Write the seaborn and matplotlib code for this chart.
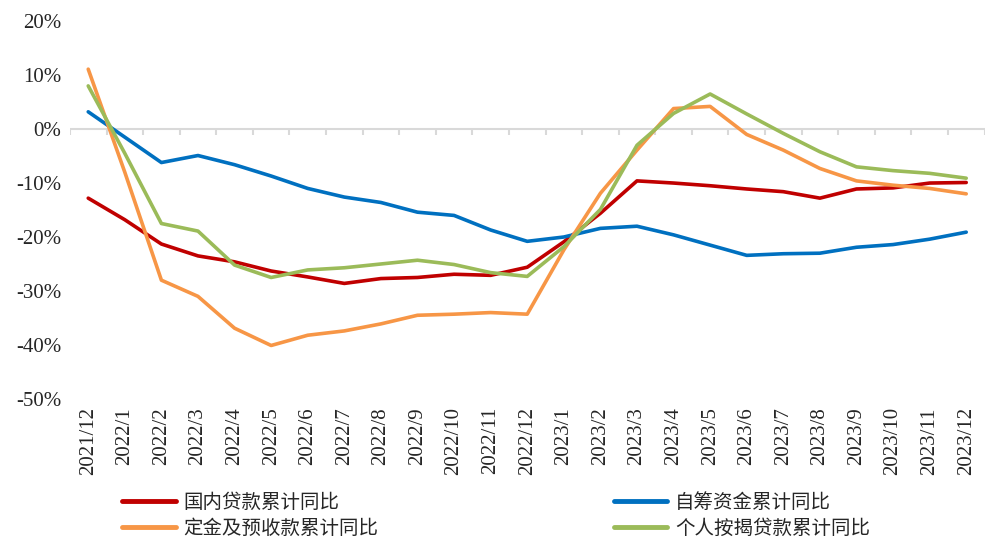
import numpy as np
import pandas as pd
import matplotlib.pyplot as plt
import seaborn as sns

# %%
months = ["2021/12", "2022/1", "2022/2", "2022/3", "2022/4", "2022/5", "2022/6",
          "2022/7", "2022/8", "2022/9", "2022/10", "2022/11", "2022/12",
          "2023/1", "2023/2", "2023/3", "2023/4", "2023/5", "2023/6", "2023/7",
          "2023/8", "2023/9", "2023/10", "2023/11", "2023/12"]

domestic_loans = [-12.8, -16.8, -21.3, -23.5, -24.6, -26.3, -27.4, -28.6, -27.7, -27.5,
                  -26.9, -27.1, -25.6, -20.9, -15.6, -9.6, -10.0, -10.5, -11.1, -11.6,
                  -12.8, -11.1, -10.9, -10.0, -9.9]
self_raised = [3.2, -1.5, -6.2, -4.9, -6.6, -8.7, -11.0, -12.6, -13.6, -15.4,
               -16.0, -18.7, -20.8, -20.0, -18.4, -18.0, -19.6, -21.5, -23.4, -23.1,
               -23.0, -21.9, -21.4, -20.4, -19.1]
deposits_prepay = [11.1, -8.0, -28.0, -31.0, -36.9, -40.1, -38.2, -37.4, -36.1, -34.5,
                   -34.3, -34.0, -34.3, -22.4, -11.9, -3.9, 3.8, 4.2, -1.0, -3.9,
                   -7.3, -9.6, -10.4, -11.0, -12.0]
mortgages = [8.0, -4.5, -17.5, -18.9, -25.2, -27.5, -26.1, -25.7, -25.0, -24.3,
             -25.1, -26.6, -27.3, -21.8, -14.9, -3.0, 2.9, 6.5, 2.8, -0.8,
             -4.2, -7.0, -7.7, -8.2, -9.1]

series_names = ["国内贷款累计同比", "自筹资金累计同比", "定金及预收款累计同比", "个人按揭贷款累计同比"]
colors = ["#C00000", "#0070C0", "#F79646", "#9BBB59"]

# %%
df = pd.DataFrame({
    "month": months * 4,
    "pos": list(range(len(months))) * 4,
    "value": domestic_loans + self_raised + deposits_prepay + mortgages,
    "series": np.repeat(series_names, len(months)),
})

sns.set_style("white")
plt.rcParams["font.family"] = ["Liberation Serif", "Noto Sans CJK SC"]

fig = plt.figure(figsize=(9.85, 5.42), dpi=100)
ax = fig.add_axes([0.071, 0.264, 0.9285, 0.697])

sns.lineplot(data=df, x="pos", y="value", hue="series", hue_order=series_names,
             palette=colors, linewidth=2.6, sort=False, ax=ax, legend=True)

ax.set_xlim(-0.5, len(months) - 0.5)
ax.set_ylim(-50, 20)
ax.set_yticks(np.arange(-50, 21, 10))
ax.set_yticklabels([f"{v}%" for v in range(-50, 21, 10)], fontsize=15)
ax.set_xticks(range(len(months)))
ax.set_xticklabels(months, rotation=90, fontsize=15)
ax.tick_params(axis="both", length=0, pad=6)
ax.set_xlabel("")
ax.set_ylabel("")
for s in ax.spines.values():
    s.set_visible(False)

# zero line with small tick marks between categories
ax.axhline(0, color="#D9D9D9", linewidth=1.5, zorder=1)
ax.vlines(np.arange(len(months) + 1) - 0.5, -1.1, 0, color="#D9D9D9", linewidth=1.5, zorder=1)

handles, labels = ax.get_legend_handles_labels()
ax.get_legend().remove()
order = [0, 2, 1, 3]
leg = fig.legend([handles[i] for i in order], [labels[i] for i in order],
                 ncol=2, loc="upper left", bbox_to_anchor=(0.124, 0.093),
                 frameon=False, handlelength=2.75, handletextpad=0.4,
                 columnspacing=12.1, labelspacing=0.28, borderaxespad=0,
                 borderpad=0, prop={"family": "Noto Sans CJK SC", "size": 14})
for h in leg.get_lines():
    h.set_linewidth(3.5)

fig.savefig("out.png", dpi=100)
